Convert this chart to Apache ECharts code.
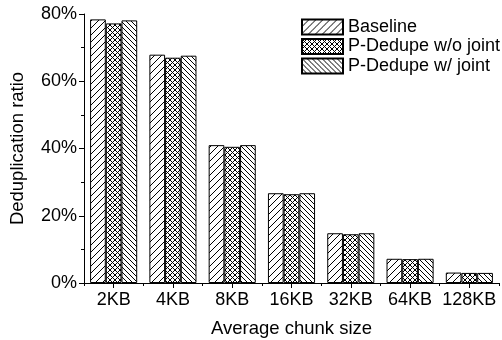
<!DOCTYPE html>
<html>
<head>
<meta charset="utf-8">
<script src="https://cdn.jsdelivr.net/npm/echarts@6/dist/echarts.min.js"></script>
<style>
  html, body { margin: 0; padding: 0; background: #fff; }
  #chart { width: 502px; height: 340px; }
</style>
</head>
<body>
<div id="chart"></div>
<script>
var categories = ['2KB', '4KB', '8KB', '16KB', '32KB', '64KB', '128KB'];
var seriesNames = ['Baseline', 'P-Dedupe w/o joint', 'P-Dedupe w/ joint'];
var baseline = [78.4, 67.9, 41.0, 26.7, 14.8, 7.2, 3.1];
var withoutJoint = [77.2, 67.0, 40.5, 26.4, 14.5, 7.1, 3.0];
var withJoint = [78.1, 67.6, 41.0, 26.7, 14.8, 7.2, 3.0];
var yTicks = [0, 20, 40, 60, 80];

// hatch patterns drawn on small canvases
function hatch(size, dirs, lw) {
  var c = document.createElement('canvas');
  c.width = size; c.height = size;
  var g = c.getContext('2d');
  g.fillStyle = '#fff';
  g.fillRect(0, 0, size, size);
  g.strokeStyle = '#000';
  g.lineWidth = lw;
  dirs.forEach(function (d) {
    g.beginPath();
    if (d === '/') {
      g.moveTo(0, size); g.lineTo(size, 0);
      g.moveTo(-1, 1); g.lineTo(1, -1);
      g.moveTo(size - 1, size + 1); g.lineTo(size + 1, size - 1);
    } else {
      g.moveTo(0, 0); g.lineTo(size, size);
      g.moveTo(-1, size - 1); g.lineTo(1, size + 1);
      g.moveTo(size - 1, -1); g.lineTo(size + 1, 1);
    }
    g.stroke();
  });
  return { image: c, repeat: 'repeat' };
}

var patterns = [
  hatch(7, ['/'], 1),
  hatch(5, ['/', '\\'], 1),
  hatch(5, ['\\'], 1)
];

var chart = echarts.init(document.getElementById('chart'));
var font = 'Liberation Sans, Arial, sans-serif';

function bar(name, data, i) {
  return {
    name: name,
    type: 'bar',
    barWidth: 15.7,
    barGap: '0%',
    data: data,
    itemStyle: { color: patterns[i], borderColor: '#000', borderWidth: 1 }
  };
}

chart.setOption({
  animation: false,
  textStyle: { fontFamily: font, color: '#000' },
  grid: { left: 84, right: 3, top: 14, bottom: 57, containLabel: false, outerBoundsMode: 'none' },
  legend: {
    orient: 'vertical',
    left: 296,
    top: 13,
    itemWidth: 41,
    itemHeight: 15,
    itemGap: 1.5,
    icon: 'rect',
    data: seriesNames,
    textStyle: { fontSize: 18, color: '#000', fontFamily: font }
  },
  xAxis: [{
    type: 'category',
    data: categories,
    name: 'Average chunk size',
    nameLocation: 'middle',
    nameGap: 36,
    nameTextStyle: { fontSize: 18.5, color: '#000', fontFamily: font },
    axisLine: { lineStyle: { color: '#000', width: 1 } },
    axisTick: { show: true, length: 3, lineStyle: { color: '#000' } },
    axisLabel: { fontSize: 18, color: '#000', margin: 8, interval: 0, fontFamily: font }
  }, {
    type: 'category',
    data: categories,
    position: 'bottom',
    axisLine: { show: false },
    axisTick: { show: true, alignWithLabel: true, interval: 0, length: 5, lineStyle: { color: '#000' } },
    axisLabel: { show: false }
  }],
  yAxis: {
    type: 'value',
    min: yTicks[0],
    max: yTicks[yTicks.length - 1],
    interval: yTicks[1] - yTicks[0],
    name: 'Deduplication ratio',
    nameLocation: 'middle',
    nameGap: 57,
    nameTextStyle: { fontSize: 18.5, color: '#000', fontFamily: font },
    axisLine: { show: true, lineStyle: { color: '#000', width: 1 } },
    axisTick: { show: true, length: 5, lineStyle: { color: '#000' } },
    minorTick: { show: true, splitNumber: 2, length: 3, lineStyle: { color: '#000' } },
    splitLine: { show: false },
    axisLabel: { fontSize: 18, color: '#000', margin: 7, formatter: '{value}%', fontFamily: font }
  },
  series: [
    bar(seriesNames[0], baseline, 0),
    bar(seriesNames[1], withoutJoint, 1),
    bar(seriesNames[2], withJoint, 2)
  ]
});
</script>
</body>
</html>
